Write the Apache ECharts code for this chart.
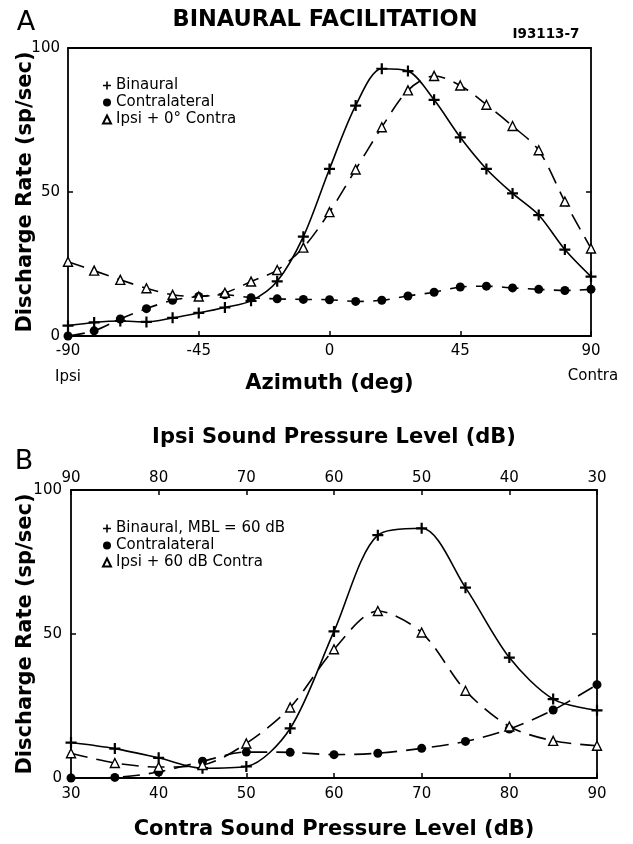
<!DOCTYPE html>
<html>
<head>
<meta charset="utf-8">
<script src="https://cdn.jsdelivr.net/npm/echarts@6/dist/echarts.min.js"></script>
<style>
html,body{margin:0;padding:0;background:#fff;}
#chart{width:633px;height:844px;}
</style>
</head>
<body>
<div id="chart"></div>
<script type="text/javascript">
// A: azimuth tuning
var azimuth = [-90,-81,-72,-63,-54,-45,-36,-27,-18,-9,0,9,18,27,36,45,54,63,72,81,90];
var binauralA = [3.6,4.7,5.2,4.9,6.3,8.0,9.9,12.2,19,34.5,58,80,92.8,92,82,69,58,49.5,42,30,20.6];
var contraA = [0,1.8,5.9,9.5,12.4,13.7,14.3,13.3,12.9,12.7,12.6,12,12.4,13.9,15.2,17,17.3,16.7,16.2,15.8,16.2];
var ipsiA = [25.8,22.7,19.5,16.6,14.3,13.7,15,18.9,22.9,30.7,43,57.8,72.5,85.3,90.3,87,80.3,72.9,64.5,46.7,30.4];
// B: level functions
var contraSPL = [30,35,40,45,50,55,60,65,70,75,80,85,90];
var binauralB = [12.3,10.2,7,3.4,4,17.2,50.9,84.3,86.7,66.1,41.8,27.4,23.5];
var contraB = [0,0.2,2.1,5.8,9,8.9,8.1,8.6,10.3,12.7,17,23.6,32.4];
var ipsiB = [8.6,5.2,3.8,4.5,12,24.5,44.7,58,50.5,30.3,17.9,12.9,11.2];

var namesA = ['Binaural','Contralateral','Ipsi + 0° Contra'];
var namesB = ['Binaural, MBL = 60 dB','Contralateral','Ipsi + 60 dB Contra'];

var FONT = 'DejaVu Sans';
var PLUS = 'path://M4,0H6V4H10V6H6V10H4V6H0V4H4Z';

function pairs(xs, ys){
	return xs.map(function(x,i){ return [x, ys[i]]; });
}

function xAx(grid, min, max, step, opt){
	var a = {
		gridIndex: grid, type: 'value', min: min, max: max, interval: step,
		axisLine: {show: true, onZero: false, lineStyle: {color: '#000', width: 1.8}},
		axisTick: {show: true, inside: true, length: 5, lineStyle: {color: '#000', width: 1.5}},
		axisLabel: {show: true, color: '#000', fontFamily: FONT, fontSize: 15, margin: 8},
		splitLine: {show: false},
		nameMoveOverlap: false,
		nameTextStyle: {color: '#000', fontFamily: FONT, fontSize: 21, fontWeight: 'bold'}
	};
	for(var k in opt){ a[k] = opt[k]; }
	return a;
}
function yAx(grid, opt){
	var a = {
		gridIndex: grid, type: 'value', min: 0, max: 100, interval: 50,
		axisLine: {show: true, onZero: false, lineStyle: {color: '#000', width: 1.8}},
		axisTick: {show: true, inside: true, length: 5, lineStyle: {color: '#000', width: 1.5}},
		axisLabel: {show: true, color: '#000', fontFamily: FONT, fontSize: 15, margin: 8},
		splitLine: {show: false},
		nameMoveOverlap: false,
		nameTextStyle: {color: '#000', fontFamily: FONT, fontSize: 21, fontWeight: 'bold'}
	};
	for(var k in opt){ a[k] = opt[k]; }
	return a;
}

// ax = index of the bottom x axis / left y axis of the panel (0 or 2)
function series(name, xs, ys, ax, kind){
	var s = {
		name: name, type: 'line', xAxisIndex: ax, yAxisIndex: ax,
		data: pairs(xs, ys), smooth: 0.3, showAllSymbol: true,
		lineStyle: {color: '#000', width: 1.6}, z: 3
	};
	if(kind == 'plus'){
		s.symbol = PLUS; s.symbolSize = 11;
		s.itemStyle = {color: '#000'};
	}else if(kind == 'dot'){
		s.symbol = 'circle'; s.symbolSize = 9;
		s.itemStyle = {color: '#000'};
		s.lineStyle.type = [17, 9];
	}else{
		s.symbol = 'triangle'; s.symbolSize = 9;
		s.itemStyle = {color: '#fff', borderColor: '#000', borderWidth: 1.4};
		s.lineStyle.type = [17, 9];
	}
	return s;
}

function legend(top, names){
	return {
		orient: 'vertical', left: 97, top: top, itemGap: 0, itemWidth: 8, itemHeight: 8,
		selectedMode: false,
		textStyle: {color: '#000', fontFamily: FONT, fontSize: 15, lineHeight: 17},
		data: [
			{name: names[0], icon: PLUS},
			{name: names[1], icon: 'circle'},
			{name: names[2], icon: 'triangle'}
		]
	};
}

var chart = echarts.init(document.getElementById('chart'));
chart.setOption({
	animation: false,
	backgroundColor: '#fff',
	grid: [
		{left: 68, top: 48, width: 523, height: 288},
		{left: 71, top: 490, width: 526, height: 288}
	],
	xAxis: [
		xAx(0, -90, 90, 45, {position: 'bottom', name: 'Azimuth (deg)', nameLocation: 'middle', nameGap: 37}),
		xAx(0, -90, 90, 45, {position: 'top', axisLabel: {show: false}, axisTick: {show: false}}),
		xAx(1, 30, 90, 10, {position: 'bottom', name: 'Contra Sound Pressure Level (dB)', nameLocation: 'middle', nameGap: 41,
			axisLabel: {show: true, color: '#000', fontFamily: FONT, fontSize: 15, margin: 9}}),
		xAx(1, 30, 90, 10, {position: 'top', inverse: true, name: 'Ipsi Sound Pressure Level (dB)', nameLocation: 'middle', nameGap: 42,
			axisLabel: {show: true, color: '#000', fontFamily: FONT, fontSize: 15, margin: 4}})
	],
	yAxis: [
		yAx(0, {position: 'left', name: 'Discharge Rate (sp/sec)', nameLocation: 'middle', nameGap: 32}),
		yAx(0, {position: 'right', axisLabel: {show: false}}),
		yAx(1, {position: 'left', name: 'Discharge Rate (sp/sec)', nameLocation: 'middle', nameGap: 35,
			axisLabel: {show: true, color: '#000', fontFamily: FONT, fontSize: 15, margin: 9}}),
		yAx(1, {position: 'right', axisLabel: {show: false}})
	],
	legend: [legend(72, namesA), legend(515, namesB)],
	series: [
		series(namesA[0], azimuth, binauralA, 0, 'plus'),
		series(namesA[1], azimuth, contraA, 0, 'dot'),
		series(namesA[2], azimuth, ipsiA, 0, 'tri'),
		series(namesB[0], contraSPL, binauralB, 2, 'plus'),
		series(namesB[1], contraSPL, contraB, 2, 'dot'),
		series(namesB[2], contraSPL, ipsiB, 2, 'tri')
	],
	graphic: [
		{type: 'text', x: 26, y: 23, style: {text: 'A', fill: '#000', font: '27px "DejaVu Sans"', align: 'center', verticalAlign: 'middle'}},
		{type: 'text', x: 325, y: 20, style: {text: 'BINAURAL FACILITATION', fill: '#000', font: 'bold 22.5px "DejaVu Sans"', align: 'center', verticalAlign: 'middle'}},
		{type: 'text', x: 546, y: 34, style: {text: 'I93113-7', fill: '#000', font: 'bold 13.5px "DejaVu Sans"', align: 'center', verticalAlign: 'middle'}},
		{type: 'text', x: 68, y: 377, style: {text: 'Ipsi', fill: '#000', font: '15px "DejaVu Sans"', align: 'center', verticalAlign: 'middle'}},
		{type: 'text', x: 593, y: 376, style: {text: 'Contra', fill: '#000', font: '15px "DejaVu Sans"', align: 'center', verticalAlign: 'middle'}},
		{type: 'text', x: 24, y: 462, style: {text: 'B', fill: '#000', font: '27px "DejaVu Sans"', align: 'center', verticalAlign: 'middle'}}
	]
});
</script>
</body>
</html>
